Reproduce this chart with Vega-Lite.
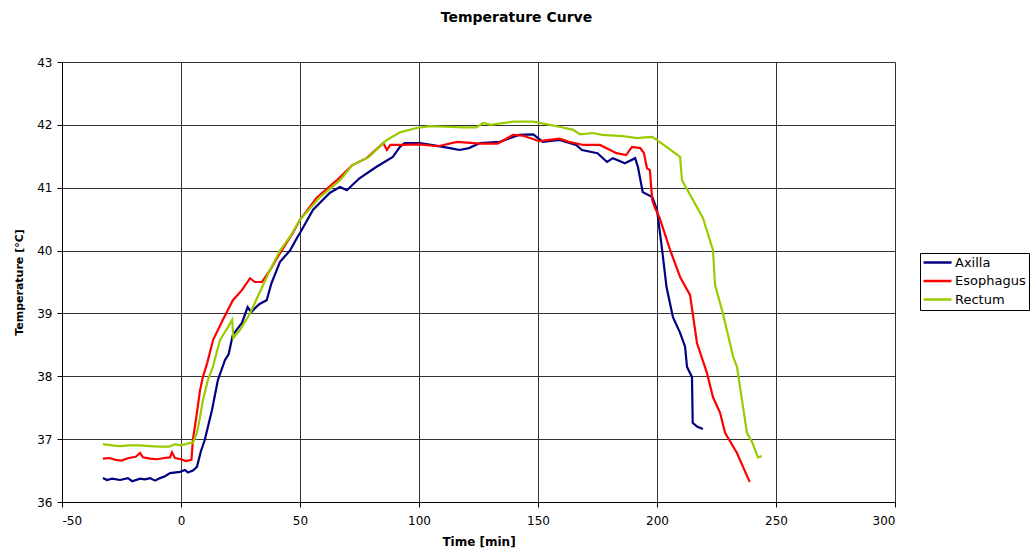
{
  "$schema": "https://vega.github.io/schema/vega-lite/v6.json",
  "autosize": "none",
  "width": 833,
  "height": 440,
  "padding": {"left": 62, "top": 62, "right": 138, "bottom": 54},
  "background": "white",
  "title": {
    "text": "Temperature Curve",
    "font": "DejaVu Sans",
    "fontSize": 14,
    "fontWeight": "bold",
    "color": "black",
    "anchor": "middle",
    "dx": 38,
    "offset": 31
  },
  "config": {
    "view": {"stroke": null},
    "font": "DejaVu Sans"
  },
  "data": {
    "values": [
      {"probe": "Axilla", "t": -32.8, "temp": 36.38},
      {"probe": "Axilla", "t": -31.1, "temp": 36.35},
      {"probe": "Axilla", "t": -29, "temp": 36.37},
      {"probe": "Axilla", "t": -25.6, "temp": 36.35},
      {"probe": "Axilla", "t": -22.3, "temp": 36.38},
      {"probe": "Axilla", "t": -20.5, "temp": 36.33},
      {"probe": "Axilla", "t": -17.2, "temp": 36.37},
      {"probe": "Axilla", "t": -15.1, "temp": 36.36},
      {"probe": "Axilla", "t": -13, "temp": 36.38},
      {"probe": "Axilla", "t": -10.9, "temp": 36.34},
      {"probe": "Axilla", "t": -8.8, "temp": 36.38},
      {"probe": "Axilla", "t": -6.7, "temp": 36.41},
      {"probe": "Axilla", "t": -4.6, "temp": 36.46},
      {"probe": "Axilla", "t": -0.4, "temp": 36.48},
      {"probe": "Axilla", "t": 1.7, "temp": 36.51},
      {"probe": "Axilla", "t": 2.9, "temp": 36.47},
      {"probe": "Axilla", "t": 5, "temp": 36.5},
      {"probe": "Axilla", "t": 6.7, "temp": 36.56},
      {"probe": "Axilla", "t": 8.3, "temp": 36.8},
      {"probe": "Axilla", "t": 10, "temp": 36.99},
      {"probe": "Axilla", "t": 13, "temp": 37.46},
      {"probe": "Axilla", "t": 15.5, "temp": 37.94},
      {"probe": "Axilla", "t": 18.5, "temp": 38.26},
      {"probe": "Axilla", "t": 20, "temp": 38.35},
      {"probe": "Axilla", "t": 21.8, "temp": 38.66},
      {"probe": "Axilla", "t": 25.6, "temp": 38.85},
      {"probe": "Axilla", "t": 28, "temp": 39.1},
      {"probe": "Axilla", "t": 29.5, "temp": 39.02},
      {"probe": "Axilla", "t": 31, "temp": 39.08},
      {"probe": "Axilla", "t": 33, "temp": 39.15},
      {"probe": "Axilla", "t": 36, "temp": 39.21},
      {"probe": "Axilla", "t": 38, "temp": 39.48},
      {"probe": "Axilla", "t": 41.6, "temp": 39.82},
      {"probe": "Axilla", "t": 45.8, "temp": 40.0},
      {"probe": "Axilla", "t": 49, "temp": 40.22},
      {"probe": "Axilla", "t": 50, "temp": 40.28},
      {"probe": "Axilla", "t": 55.5, "temp": 40.65},
      {"probe": "Axilla", "t": 62.6, "temp": 40.92},
      {"probe": "Axilla", "t": 66.8, "temp": 41.01},
      {"probe": "Axilla", "t": 69.7, "temp": 40.96},
      {"probe": "Axilla", "t": 75, "temp": 41.15},
      {"probe": "Axilla", "t": 82, "temp": 41.33},
      {"probe": "Axilla", "t": 89, "temp": 41.49},
      {"probe": "Axilla", "t": 92, "temp": 41.65},
      {"probe": "Axilla", "t": 94, "temp": 41.71},
      {"probe": "Axilla", "t": 100.4, "temp": 41.71},
      {"probe": "Axilla", "t": 107, "temp": 41.67},
      {"probe": "Axilla", "t": 113, "temp": 41.63},
      {"probe": "Axilla", "t": 117, "temp": 41.6},
      {"probe": "Axilla", "t": 121, "temp": 41.63},
      {"probe": "Axilla", "t": 125.6, "temp": 41.71},
      {"probe": "Axilla", "t": 134, "temp": 41.73},
      {"probe": "Axilla", "t": 142, "temp": 41.84},
      {"probe": "Axilla", "t": 148, "temp": 41.85},
      {"probe": "Axilla", "t": 152, "temp": 41.73},
      {"probe": "Axilla", "t": 159, "temp": 41.76},
      {"probe": "Axilla", "t": 166, "temp": 41.68},
      {"probe": "Axilla", "t": 168.5, "temp": 41.6},
      {"probe": "Axilla", "t": 175, "temp": 41.55},
      {"probe": "Axilla", "t": 179, "temp": 41.41},
      {"probe": "Axilla", "t": 181.5, "temp": 41.47},
      {"probe": "Axilla", "t": 186.5, "temp": 41.39},
      {"probe": "Axilla", "t": 190.8, "temp": 41.47},
      {"probe": "Axilla", "t": 192, "temp": 41.33},
      {"probe": "Axilla", "t": 194, "temp": 40.93},
      {"probe": "Axilla", "t": 198, "temp": 40.85},
      {"probe": "Axilla", "t": 200, "temp": 40.65},
      {"probe": "Axilla", "t": 202, "temp": 40.06},
      {"probe": "Axilla", "t": 204, "temp": 39.42},
      {"probe": "Axilla", "t": 206.7, "temp": 38.94},
      {"probe": "Axilla", "t": 209.7, "temp": 38.69},
      {"probe": "Axilla", "t": 211.8, "temp": 38.47},
      {"probe": "Axilla", "t": 212.6, "temp": 38.15},
      {"probe": "Axilla", "t": 214.7, "temp": 37.99},
      {"probe": "Axilla", "t": 215, "temp": 37.26},
      {"probe": "Axilla", "t": 216.8, "temp": 37.2},
      {"probe": "Axilla", "t": 219.3, "temp": 37.16},

      {"probe": "Esophagus", "t": -32.8, "temp": 36.69},
      {"probe": "Esophagus", "t": -30, "temp": 36.7},
      {"probe": "Esophagus", "t": -27.5, "temp": 36.67},
      {"probe": "Esophagus", "t": -25, "temp": 36.66},
      {"probe": "Esophagus", "t": -22, "temp": 36.7},
      {"probe": "Esophagus", "t": -19, "temp": 36.72},
      {"probe": "Esophagus", "t": -17.2, "temp": 36.78},
      {"probe": "Esophagus", "t": -16, "temp": 36.71},
      {"probe": "Esophagus", "t": -13, "temp": 36.69},
      {"probe": "Esophagus", "t": -10, "temp": 36.68},
      {"probe": "Esophagus", "t": -7, "temp": 36.7},
      {"probe": "Esophagus", "t": -4.6, "temp": 36.71},
      {"probe": "Esophagus", "t": -3.8, "temp": 36.79},
      {"probe": "Esophagus", "t": -2.5, "temp": 36.7},
      {"probe": "Esophagus", "t": 0, "temp": 36.68},
      {"probe": "Esophagus", "t": 2, "temp": 36.65},
      {"probe": "Esophagus", "t": 4.4, "temp": 36.67},
      {"probe": "Esophagus", "t": 5, "temp": 36.99},
      {"probe": "Esophagus", "t": 6.7, "temp": 37.42},
      {"probe": "Esophagus", "t": 8, "temp": 37.78},
      {"probe": "Esophagus", "t": 9.2, "temp": 37.99},
      {"probe": "Esophagus", "t": 11, "temp": 38.21},
      {"probe": "Esophagus", "t": 13.5, "temp": 38.58},
      {"probe": "Esophagus", "t": 17.6, "temp": 38.9},
      {"probe": "Esophagus", "t": 21.8, "temp": 39.21},
      {"probe": "Esophagus", "t": 25.6, "temp": 39.37},
      {"probe": "Esophagus", "t": 29, "temp": 39.56},
      {"probe": "Esophagus", "t": 31, "temp": 39.5},
      {"probe": "Esophagus", "t": 34, "temp": 39.5},
      {"probe": "Esophagus", "t": 37.4, "temp": 39.69},
      {"probe": "Esophagus", "t": 41.6, "temp": 39.96},
      {"probe": "Esophagus", "t": 47, "temp": 40.28},
      {"probe": "Esophagus", "t": 50, "temp": 40.49},
      {"probe": "Esophagus", "t": 57, "temp": 40.84},
      {"probe": "Esophagus", "t": 65.5, "temp": 41.12},
      {"probe": "Esophagus", "t": 72, "temp": 41.36},
      {"probe": "Esophagus", "t": 78, "temp": 41.47},
      {"probe": "Esophagus", "t": 85, "temp": 41.71},
      {"probe": "Esophagus", "t": 86.5, "temp": 41.6},
      {"probe": "Esophagus", "t": 88, "temp": 41.68},
      {"probe": "Esophagus", "t": 93, "temp": 41.68},
      {"probe": "Esophagus", "t": 100, "temp": 41.69},
      {"probe": "Esophagus", "t": 108, "temp": 41.66},
      {"probe": "Esophagus", "t": 116, "temp": 41.73},
      {"probe": "Esophagus", "t": 125.6, "temp": 41.7},
      {"probe": "Esophagus", "t": 133, "temp": 41.7},
      {"probe": "Esophagus", "t": 139.5, "temp": 41.84},
      {"probe": "Esophagus", "t": 143.5, "temp": 41.83},
      {"probe": "Esophagus", "t": 150.6, "temp": 41.74},
      {"probe": "Esophagus", "t": 159, "temp": 41.78},
      {"probe": "Esophagus", "t": 163, "temp": 41.73},
      {"probe": "Esophagus", "t": 169, "temp": 41.68},
      {"probe": "Esophagus", "t": 176, "temp": 41.68},
      {"probe": "Esophagus", "t": 183, "temp": 41.55},
      {"probe": "Esophagus", "t": 187, "temp": 41.52},
      {"probe": "Esophagus", "t": 189.5, "temp": 41.65},
      {"probe": "Esophagus", "t": 193, "temp": 41.63},
      {"probe": "Esophagus", "t": 194.5, "temp": 41.55},
      {"probe": "Esophagus", "t": 195.8, "temp": 41.31},
      {"probe": "Esophagus", "t": 197, "temp": 41.28},
      {"probe": "Esophagus", "t": 198, "temp": 40.8},
      {"probe": "Esophagus", "t": 199, "temp": 40.69},
      {"probe": "Esophagus", "t": 201, "temp": 40.53},
      {"probe": "Esophagus", "t": 205.5, "temp": 40.01},
      {"probe": "Esophagus", "t": 209.7, "temp": 39.58},
      {"probe": "Esophagus", "t": 213.9, "temp": 39.29},
      {"probe": "Esophagus", "t": 215, "temp": 39.0},
      {"probe": "Esophagus", "t": 216.8, "temp": 38.53},
      {"probe": "Esophagus", "t": 221, "temp": 38.05},
      {"probe": "Esophagus", "t": 223.5, "temp": 37.67},
      {"probe": "Esophagus", "t": 226.5, "temp": 37.42},
      {"probe": "Esophagus", "t": 228.6, "temp": 37.1},
      {"probe": "Esophagus", "t": 233.6, "temp": 36.78},
      {"probe": "Esophagus", "t": 238, "temp": 36.4},
      {"probe": "Esophagus", "t": 239, "temp": 36.32},

      {"probe": "Rectum", "t": -32.8, "temp": 36.92},
      {"probe": "Rectum", "t": -29, "temp": 36.9},
      {"probe": "Rectum", "t": -25.6, "temp": 36.89},
      {"probe": "Rectum", "t": -22, "temp": 36.9},
      {"probe": "Rectum", "t": -17.2, "temp": 36.9},
      {"probe": "Rectum", "t": -13, "temp": 36.89},
      {"probe": "Rectum", "t": -8.8, "temp": 36.88},
      {"probe": "Rectum", "t": -5, "temp": 36.88},
      {"probe": "Rectum", "t": -2.5, "temp": 36.92},
      {"probe": "Rectum", "t": -0.4, "temp": 36.9},
      {"probe": "Rectum", "t": 2, "temp": 36.92},
      {"probe": "Rectum", "t": 3.8, "temp": 36.94},
      {"probe": "Rectum", "t": 5, "temp": 36.94},
      {"probe": "Rectum", "t": 6.7, "temp": 37.1},
      {"probe": "Rectum", "t": 8, "temp": 37.35},
      {"probe": "Rectum", "t": 9.2, "temp": 37.62},
      {"probe": "Rectum", "t": 11.3, "temp": 37.94},
      {"probe": "Rectum", "t": 13.4, "temp": 38.15},
      {"probe": "Rectum", "t": 16.4, "temp": 38.58},
      {"probe": "Rectum", "t": 19.7, "temp": 38.78},
      {"probe": "Rectum", "t": 21.5, "temp": 38.9},
      {"probe": "Rectum", "t": 22, "temp": 38.61},
      {"probe": "Rectum", "t": 24.8, "temp": 38.74},
      {"probe": "Rectum", "t": 29, "temp": 39.0},
      {"probe": "Rectum", "t": 33, "temp": 39.33},
      {"probe": "Rectum", "t": 37.4, "temp": 39.69},
      {"probe": "Rectum", "t": 41.6, "temp": 40.0},
      {"probe": "Rectum", "t": 45.8, "temp": 40.22},
      {"probe": "Rectum", "t": 50, "temp": 40.49},
      {"probe": "Rectum", "t": 58.4, "temp": 40.85},
      {"probe": "Rectum", "t": 66.8, "temp": 41.12},
      {"probe": "Rectum", "t": 72, "temp": 41.36},
      {"probe": "Rectum", "t": 79, "temp": 41.49},
      {"probe": "Rectum", "t": 86.5, "temp": 41.76},
      {"probe": "Rectum", "t": 92, "temp": 41.88},
      {"probe": "Rectum", "t": 99, "temp": 41.95},
      {"probe": "Rectum", "t": 104.6, "temp": 41.98},
      {"probe": "Rectum", "t": 111, "temp": 41.97},
      {"probe": "Rectum", "t": 118.5, "temp": 41.96},
      {"probe": "Rectum", "t": 124, "temp": 41.96},
      {"probe": "Rectum", "t": 127, "temp": 42.03},
      {"probe": "Rectum", "t": 130, "temp": 42.0},
      {"probe": "Rectum", "t": 139.6, "temp": 42.05},
      {"probe": "Rectum", "t": 148, "temp": 42.05},
      {"probe": "Rectum", "t": 155, "temp": 42.0},
      {"probe": "Rectum", "t": 159, "temp": 41.97},
      {"probe": "Rectum", "t": 164.8, "temp": 41.92},
      {"probe": "Rectum", "t": 167.6, "temp": 41.85},
      {"probe": "Rectum", "t": 173, "temp": 41.87},
      {"probe": "Rectum", "t": 177, "temp": 41.84},
      {"probe": "Rectum", "t": 185.7, "temp": 41.82},
      {"probe": "Rectum", "t": 191.6, "temp": 41.79},
      {"probe": "Rectum", "t": 195, "temp": 41.8},
      {"probe": "Rectum", "t": 198, "temp": 41.81},
      {"probe": "Rectum", "t": 204, "temp": 41.65},
      {"probe": "Rectum", "t": 209.7, "temp": 41.49},
      {"probe": "Rectum", "t": 210.5, "temp": 41.12},
      {"probe": "Rectum", "t": 219.3, "temp": 40.52},
      {"probe": "Rectum", "t": 223.5, "temp": 40.01},
      {"probe": "Rectum", "t": 224.4, "temp": 39.45},
      {"probe": "Rectum", "t": 227.7, "temp": 39.0},
      {"probe": "Rectum", "t": 232, "temp": 38.31},
      {"probe": "Rectum", "t": 233.6, "temp": 38.15},
      {"probe": "Rectum", "t": 237.8, "temp": 37.1},
      {"probe": "Rectum", "t": 240, "temp": 36.95},
      {"probe": "Rectum", "t": 242.4, "temp": 36.71},
      {"probe": "Rectum", "t": 244, "temp": 36.73}
    ]
  },
  "mark": {"type": "line", "strokeWidth": 2.2, "clip": true},
  "encoding": {
    "x": {
      "field": "t",
      "type": "quantitative",
      "scale": {"domain": [-50, 300], "nice": false, "zero": false},
      "axis": {
        "title": "Time [min]",
        "values": [-50, 0, 50, 100, 150, 200, 250, 300],
        "labelExpr": "'' + datum.value",
        "grid": true,
        "gridColor": "#333333",
        "gridOpacity": 1,
        "gridWidth": 1,
        "domainColor": "black",
        "domainWidth": 1,
        "tickColor": "black",
        "tickSize": 5,
        "labelFont": "DejaVu Sans",
        "labelFontSize": 12,
        "labelColor": "black",
        "labelPadding": 8,
        "titleFont": "DejaVu Sans",
        "titleFontSize": 12,
        "titleFontWeight": "bold",
        "titleColor": "black",
        "titlePadding": 10
      }
    },
    "y": {
      "field": "temp",
      "type": "quantitative",
      "scale": {"domain": [36, 43], "nice": false, "zero": false},
      "axis": {
        "title": "Temperature [°C]",
        "values": [36, 37, 38, 39, 40, 41, 42, 43],
        "grid": true,
        "gridColor": "#333333",
        "gridOpacity": 1,
        "gridWidth": 1,
        "domainColor": "black",
        "domainWidth": 1,
        "tickColor": "black",
        "tickSize": 5,
        "labelFont": "DejaVu Sans",
        "labelFontSize": 12,
        "labelColor": "black",
        "labelPadding": 5,
        "titleFont": "DejaVu Sans",
        "titleFontSize": 11,
        "titleFontWeight": "bold",
        "titleColor": "black",
        "titlePadding": 12
      }
    },
    "color": {
      "field": "probe",
      "type": "nominal",
      "scale": {
        "domain": ["Axilla", "Esophagus", "Rectum"],
        "range": ["#000080", "#ff0000", "#99cc00"]
      },
      "legend": {
        "title": null,
        "orient": "none",
        "legendX": 858,
        "legendY": 191,
        "fillColor": "white",
        "strokeColor": "black",
        "padding": 3,
        "symbolType": "M-2.8,0H2.8",
        "symbolSize": 100,
        "symbolOffset": 8,
        "symbolStrokeWidth": 2.5,
        "labelFont": "DejaVu Sans",
        "labelFontSize": 13,
        "labelColor": "black",
        "rowPadding": 4.5,
        "labelOffset": 11
      }
    }
  }
}
